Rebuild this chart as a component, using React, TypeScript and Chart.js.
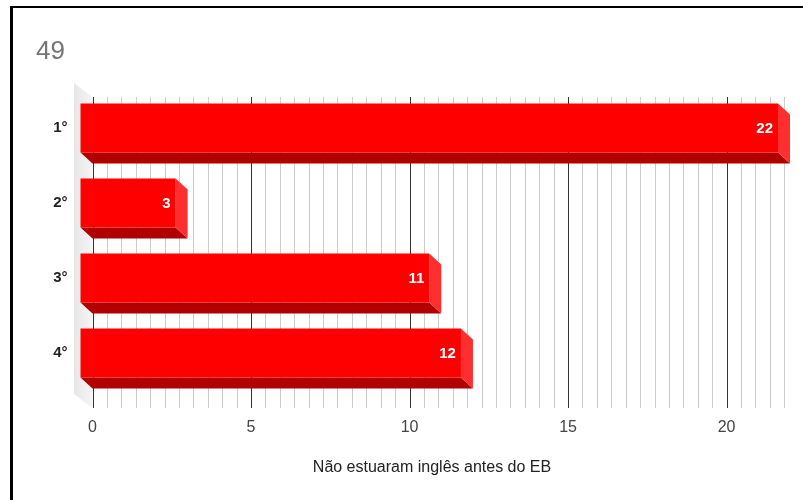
import React, { useEffect, useRef } from 'react';
import { Chart, registerables } from 'chart.js';

Chart.register(...registerables);

// Data
const categories = ['1°', '2°', '3°', '4°'];
const values = [22, 3, 11, 12];
const majorTicks = [0, 5, 10, 15, 20];
const minorPerMajor = 11;
const axisMax = 22;
const chartTitle = '49';
const axisTitle = 'Não estuaram inglês antes do EB';

// Extrusion of the 3D bars (front face sits up-left of the back face)
const DEPTH_X = 12;
const DEPTH_Y = 11;
const FONT = 'Arial, "Liberation Sans", sans-serif';

const isMajor = (v: number) => majorTicks.some((m) => Math.abs(m - v) < 1e-6);

const threeDPlugin = {
  id: 'threeD',
  beforeDatasetsDraw(chart: any) {
    const { ctx, chartArea } = chart;
    const xs = chart.scales.x;
    const wallTop = chartArea.top - 4.5;
    const wallBottom = chartArea.bottom + 6.5;
    const back = chartArea.left;

    // left side wall
    ctx.save();
    const g = ctx.createLinearGradient(back - 19, 0, back, 0);
    g.addColorStop(0, '#e6e6e6');
    g.addColorStop(1, '#f5f5f5');
    ctx.fillStyle = g;
    ctx.beginPath();
    ctx.moveTo(back - 18.5, wallTop - 14);
    ctx.lineTo(back, wallTop);
    ctx.lineTo(back, wallBottom);
    ctx.lineTo(back - 18.5, wallBottom - 14);
    ctx.closePath();
    ctx.fill();

    // gridlines on the back wall
    xs.ticks.forEach((t: any) => {
      const px = Math.round(xs.getPixelForValue(t.value)) + 0.5;
      ctx.strokeStyle = isMajor(t.value) ? '#333333' : '#cccccc';
      ctx.lineWidth = 1;
      ctx.beginPath();
      ctx.moveTo(px, wallTop);
      ctx.lineTo(px, wallBottom);
      ctx.stroke();
    });
    ctx.restore();
  },
  afterDatasetsDraw(chart: any) {
    const { ctx } = chart;
    const meta = chart.getDatasetMeta(0);
    ctx.save();
    meta.data.forEach((el: any, i: number) => {
      const { x, y, base, height } = el.getProps(['x', 'y', 'base', 'height'], true);
      const top = y - height / 2;
      const bottom = y + height / 2;
      const fx = x - DEPTH_X;
      const fb = base - DEPTH_X;
      const ft = top - DEPTH_Y;
      const fbot = bottom - DEPTH_Y;

      // bottom face
      ctx.fillStyle = '#b00000';
      ctx.beginPath();
      ctx.moveTo(fb, fbot);
      ctx.lineTo(fx, fbot);
      ctx.lineTo(x, bottom);
      ctx.lineTo(base, bottom);
      ctx.closePath();
      ctx.fill();

      // right face
      ctx.fillStyle = '#ff2f2f';
      ctx.beginPath();
      ctx.moveTo(fx, ft);
      ctx.lineTo(x, top);
      ctx.lineTo(x, bottom);
      ctx.lineTo(fx, fbot);
      ctx.closePath();
      ctx.fill();

      // front face
      ctx.fillStyle = '#ff0000';
      ctx.fillRect(fb, ft, fx - fb, fbot - ft);

      // value label
      ctx.fillStyle = '#ffffff';
      ctx.font = `bold 15px ${FONT}`;
      ctx.textAlign = 'right';
      ctx.textBaseline = 'middle';
      ctx.fillText(String(values[i]), fx - 5, y - DEPTH_Y + 1);
    });
    ctx.restore();
  },
  afterDraw(chart: any) {
    const { ctx } = chart;
    ctx.save();
    ctx.fillStyle = '#757575';
    ctx.font = `26px ${FONT}`;
    ctx.textAlign = 'left';
    ctx.textBaseline = 'alphabetic';
    ctx.fillText(chartTitle, 36, 59);

    ctx.fillStyle = '#222222';
    ctx.font = `16px ${FONT}`;
    ctx.textAlign = 'center';
    ctx.textBaseline = 'middle';
    ctx.fillText(axisTitle, 432, 468);
    ctx.restore();
  },
};

export default function App() {
  const canvasRef = useRef<HTMLCanvasElement | null>(null);

  useEffect(() => {
    const canvas = canvasRef.current;
    if (!canvas) return;
    const chart = new Chart(canvas, {
      type: 'bar',
      data: {
        labels: categories,
        datasets: [
          {
            data: values,
            backgroundColor: 'rgba(0,0,0,0)',
            borderWidth: 0,
            categoryPercentage: 1,
            barPercentage: 49 / 75,
          },
        ],
      },
      options: {
        indexAxis: 'y',
        animation: false,
        responsive: false,
        devicePixelRatio: 1,
        layout: { padding: { top: 101.5, right: 13, left: 0, bottom: 0 } },
        plugins: {
          legend: { display: false },
          tooltip: { enabled: false },
          title: { display: false },
        },
        scales: {
          x: {
            type: 'linear',
            min: 0,
            max: axisMax,
            grid: { display: false, drawTicks: false },
            border: { display: false },
            afterBuildTicks: (scale: any) => {
              const step = 5 / minorPerMajor;
              const ticks = [];
              for (let i = 0; i * step <= axisMax + 1e-9; i++) {
                const v = i % minorPerMajor === 0 ? (i / minorPerMajor) * 5 : i * step;
                ticks.push({ value: v });
              }
              scale.ticks = ticks;
            },
            afterFit: (scale: any) => {
              scale.height = 98.5;
            },
            ticks: {
              autoSkip: false,
              maxRotation: 0,
              padding: 16,
              color: '#444444',
              font: { family: FONT, size: 16 },
              callback: (v: any) => (isMajor(Number(v)) ? String(Math.round(Number(v))) : ''),
            },
          },
          y: {
            type: 'category',
            grid: { display: false, drawTicks: false },
            border: { display: false },
            afterFit: (scale: any) => {
              scale.width = 92.5;
            },
            ticks: {
              padding: 25,
              labelOffset: -11,
              color: '#222222',
              font: { family: FONT, size: 15, weight: 'bold' },
            },
          },
        },
      },
      plugins: [threeDPlugin],
    });
    return () => chart.destroy();
  }, []);

  return (
    <div
      style={{
        position: 'fixed',
        left: 0,
        top: 0,
        width: 803,
        height: 500,
        background: '#ffffff',
        overflow: 'hidden',
      }}
    >
      <canvas ref={canvasRef} width={803} height={500} style={{ display: 'block' }} />
      <div
        style={{
          position: 'absolute',
          left: 10,
          top: 6,
          width: 820,
          height: 520,
          borderLeft: '3px solid #000',
          borderTop: '2px solid #000',
          boxSizing: 'border-box',
          pointerEvents: 'none',
        }}
      />
    </div>
  );
}
